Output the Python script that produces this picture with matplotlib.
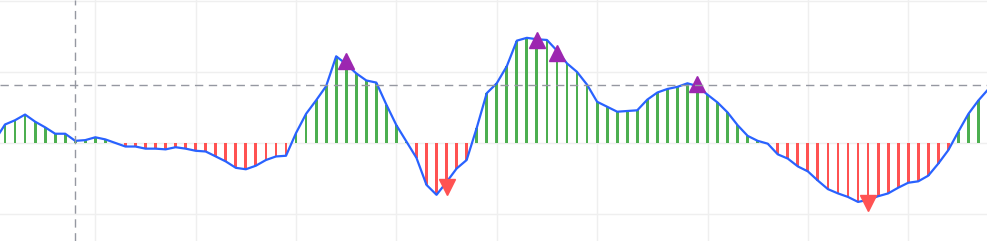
import matplotlib.pyplot as plt

# oscillator values, one per bar (index -1 .. 98)
osc_values = [0.04, 0.26, 0.32, 0.40, 0.30, 0.22, 0.13, 0.13, 0.03, 0.04,
              0.08, 0.05, 0.0, -0.05, -0.05, -0.08, -0.08, -0.09, -0.06, -0.08,
              -0.11, -0.12, -0.19, -0.26, -0.35, -0.37, -0.32, -0.24, -0.19, -0.18,
              0.14, 0.41, 0.60, 0.80, 1.22, 1.11, 0.98, 0.88, 0.85, 0.54,
              0.25, 0.02, -0.21, -0.59, -0.73, -0.55, -0.36, -0.24, 0.21, 0.70,
              0.84, 1.08, 1.44, 1.48, 1.46, 1.45, 1.30, 1.12, 1.00, 0.82,
              0.58, 0.51, 0.44, 0.45, 0.46, 0.61, 0.71, 0.76, 0.79, 0.84,
              0.80, 0.68, 0.57, 0.43, 0.25, 0.10, 0.03, -0.01, -0.16, -0.22,
              -0.33, -0.40, -0.53, -0.65, -0.71, -0.76, -0.83, -0.80, -0.75, -0.71,
              -0.63, -0.56, -0.54, -0.46, -0.29, -0.10, 0.16, 0.41, 0.60, 0.76]
first_index = -1

# signal markers
up_idx = [34, 53, 55, 69]
up_val = [1.16, 1.45, 1.26, 0.83]
down_idx = [44, 86]
down_val = [-0.62, -0.85]

# grid positions (index) and crosshair
x_grid = [9, 19, 29, 39, 49, 59, 70, 80, 90]
y_grid = [-1, 0, 1, 2]
cross_x = 7
cross_y = 0.817

idx = list(range(first_index, first_index + len(osc_values)))
colors = ['#4caf50' if v >= 0 else '#ff5252' for v in osc_values]

fig = plt.figure(figsize=(9.871, 2.411), dpi=100)
ax = fig.add_axes([0, 0, 1, 1])

# light grid
for gx in x_grid:
    ax.axvline(gx, color='#efefef', lw=1, zorder=0)
for gy in y_grid:
    ax.axhline(gy, color='#efefef', lw=1, zorder=0)

ax.bar(idx, osc_values, width=0.28, color=colors, zorder=2)
ax.plot(idx, osc_values, color='#2962ff', lw=1.6, zorder=3)

ax.plot(up_idx, up_val, linestyle='none', marker='^', ms=12, color='#9c27b0', zorder=4)
ax.plot(down_idx, down_val, linestyle='none', marker='v', ms=12, color='#ff5252', zorder=4)

# crosshair
ax.axvline(cross_x, color='#9598a1', lw=1, dashes=(6, 4), zorder=5)
ax.axhline(cross_y, color='#9598a1', lw=1, dashes=(6, 4), zorder=5)

ax.set_xlim(-0.498, 97.86)
ax.set_ylim(-1.38, 2.014)
ax.axis('off')

fig.savefig('out.png', dpi=100)
